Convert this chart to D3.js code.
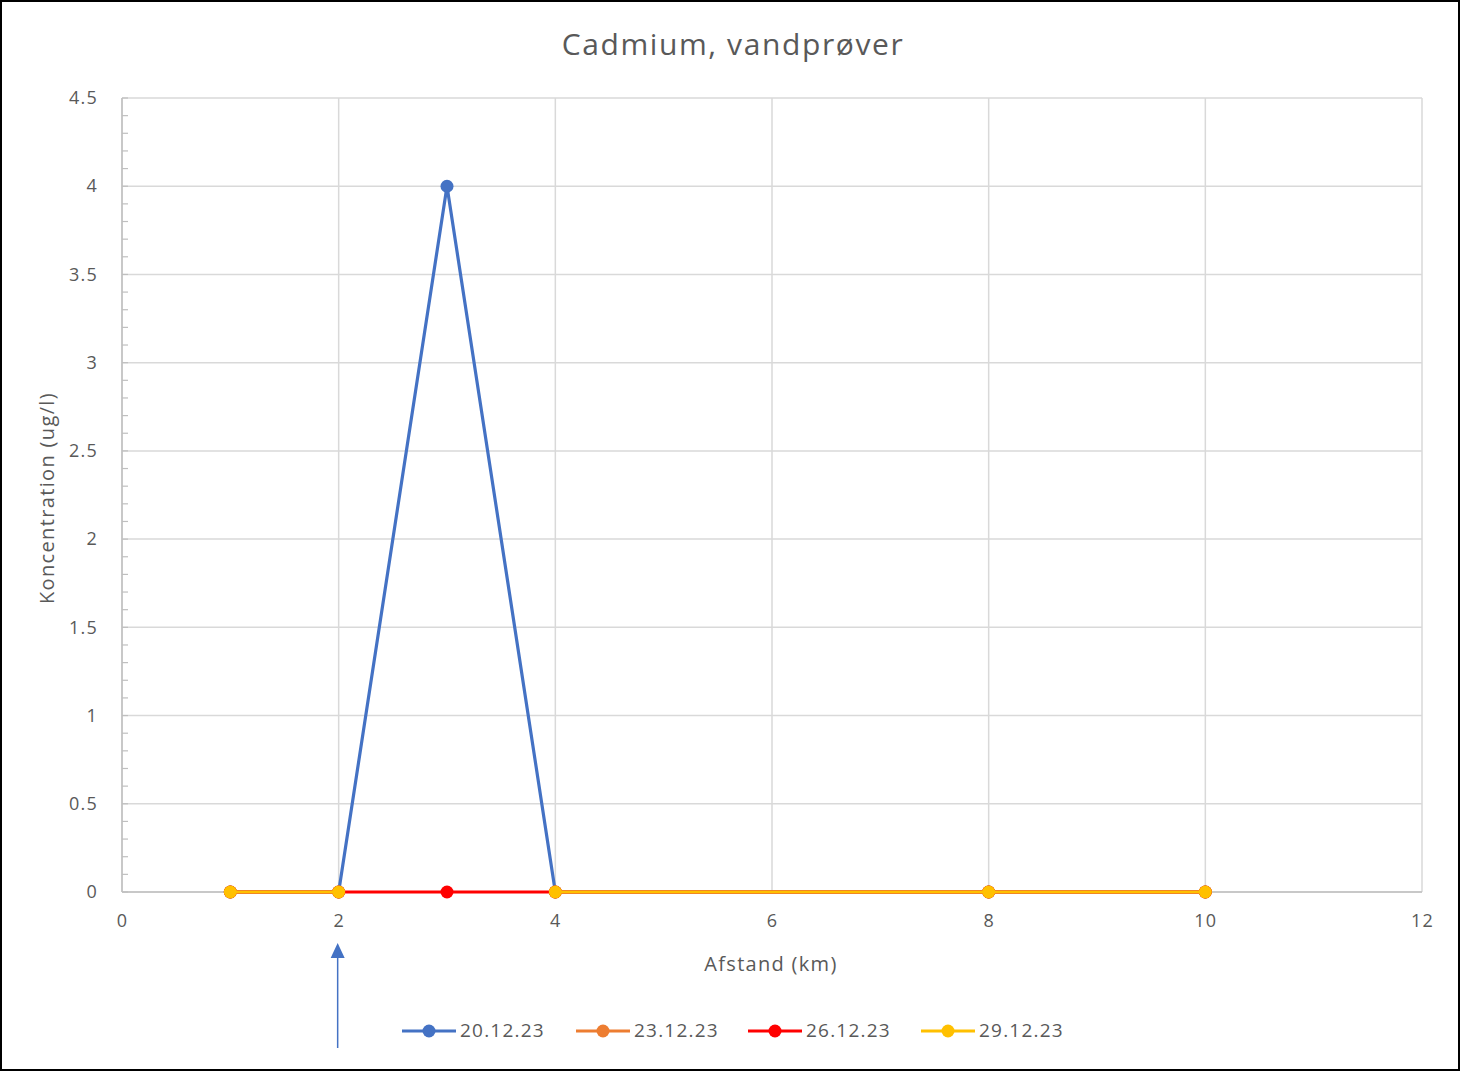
<!DOCTYPE html>
<html><head><meta charset="utf-8">
<script src="https://cdn.jsdelivr.net/npm/d3@7"></script>
<style>body{margin:0;background:#fff}svg{display:block}</style>
</head><body>
<script>
const title = "Cadmium, vandprøver";
const xLabel = "Afstand (km)";
const yLabel = "Koncentration (ug/l)";
const distances = [1, 2, 3, 4, 8, 10];
const seriesNames = ["20.12.23", "23.12.23", "26.12.23", "29.12.23"];
const seriesColors = ["#4472C4", "#ED7D31", "#FF0000", "#FFC000"];
const s20 = [0, 0, 4, 0, 0, 0];
const s23 = [0, 0, null, 0, 0, 0];
const s26 = [0, 0, 0, 0, 0, 0];
const s29 = [0, 0, null, 0, 0, 0];
const seriesValues = [s20, s23, s26, s29];
const xTicks = [0, 2, 4, 6, 8, 10, 12];
const yTicks = [0, 0.5, 1, 1.5, 2, 2.5, 3, 3.5, 4, 4.5];
const arrowAt = 2;

const W = 1461, H = 1072;
const font = "'Open Sans', Lato, sans-serif";
const svg = d3.select("body").append("svg").attr("width", W).attr("height", H);
svg.append("rect").attr("x", 1).attr("y", 1).attr("width", W - 3).attr("height", H - 3)
  .attr("fill", "#fff").attr("stroke", "#000").attr("stroke-width", 2);

const L = 122, R = 1422, T = 98, B = 892;
const x = d3.scaleLinear().domain([0, 12]).range([L, R]);
const y = d3.scaleLinear().domain([0, 4.5]).range([B, T]);

svg.append("g").selectAll("line").data(yTicks).join("line")
  .attr("x1", L).attr("x2", R).attr("y1", d => y(d)).attr("y2", d => y(d))
  .attr("stroke", "#d9d9d9").attr("stroke-width", 1.5);
svg.append("g").selectAll("line").data(xTicks).join("line")
  .attr("x1", d => x(d)).attr("x2", d => x(d)).attr("y1", T).attr("y2", B)
  .attr("stroke", "#d9d9d9").attr("stroke-width", 1.5);

const minor = d3.range(0, 4.5001, 0.1);
svg.append("g").selectAll("line").data(minor).join("line")
  .attr("x1", L).attr("x2", L + 6).attr("y1", d => y(d)).attr("y2", d => y(d))
  .attr("stroke", "#bfbfbf").attr("stroke-width", 1.2);
svg.append("line").attr("x1", L).attr("x2", L).attr("y1", T).attr("y2", B).attr("stroke", "#bfbfbf").attr("stroke-width", 1.5);
svg.append("line").attr("x1", L).attr("x2", R).attr("y1", B).attr("y2", B).attr("stroke", "#bfbfbf").attr("stroke-width", 1.5);

const yAxis = svg.append("g").attr("transform", `translate(${L - 21},0)`)
  .call(d3.axisLeft(y).tickValues(yTicks).tickSize(0).tickFormat(d => String(d)));
yAxis.select(".domain").remove();
yAxis.selectAll("text").attr("font-family", font).attr("font-size", 18).attr("letter-spacing", 1.2).attr("fill", "#595959");

const xAxis = svg.append("g").attr("transform", `translate(0,${B + 19})`)
  .call(d3.axisBottom(x).tickValues(xTicks).tickSize(0).tickFormat(d => String(d)));
xAxis.select(".domain").remove();
xAxis.selectAll("text").attr("font-family", font).attr("font-size", 18).attr("letter-spacing", 1.2).attr("fill", "#595959");

svg.append("text").attr("x", 733).attr("y", 55).attr("text-anchor", "middle")
  .attr("font-family", font).attr("font-size", 30).attr("letter-spacing", 1.6).attr("fill", "#595959").text(title);
svg.append("text").attr("x", 771).attr("y", 971).attr("text-anchor", "middle")
  .attr("font-family", font).attr("font-size", 20).attr("letter-spacing", 1.3).attr("fill", "#595959").text(xLabel);
svg.append("text").attr("transform", "translate(54,498) rotate(-90)").attr("text-anchor", "middle")
  .attr("font-family", font).attr("font-size", 20).attr("letter-spacing", 1.35).attr("fill", "#595959").text(yLabel);

const line = d3.line().defined(d => d.v !== null).x(d => x(d.d)).y(d => y(d.v));
seriesValues.forEach((vals, i) => {
  const pts = distances.map((d, j) => ({d, v: vals[j]}));
  const g = svg.append("g");
  g.append("path").datum(pts).attr("d", line).attr("fill", "none")
    .attr("stroke", seriesColors[i]).attr("stroke-width", 3.2).attr("stroke-linejoin", "round");
  g.selectAll("circle").data(pts.filter(p => p.v !== null)).join("circle")
    .attr("cx", p => x(p.d)).attr("cy", p => y(p.v)).attr("r", 6.5).attr("fill", seriesColors[i]);
});

const ax = x(arrowAt) - 1;
svg.append("line").attr("x1", ax).attr("x2", ax).attr("y1", 1048).attr("y2", 955)
  .attr("stroke", "#4472C4").attr("stroke-width", 1.5);
svg.append("path").attr("d", `M${ax},943 L${ax - 7},958 L${ax + 7},958 Z`).attr("fill", "#4472C4");

const legX = [402, 576, 748, 921];
const legY = 1031;
seriesNames.forEach((n, i) => {
  const g = svg.append("g").attr("transform", `translate(${legX[i]},${legY})`);
  g.append("line").attr("x1", 0).attr("x2", 54).attr("stroke", seriesColors[i]).attr("stroke-width", 3.2);
  g.append("circle").attr("cx", 27).attr("r", 6.5).attr("fill", seriesColors[i]);
  g.append("text").attr("x", 58).attr("y", 6).attr("font-family", font).attr("font-size", 19)
    .attr("letter-spacing", 1.2).attr("fill", "#595959").text(n);
});
</script>
</body></html>
